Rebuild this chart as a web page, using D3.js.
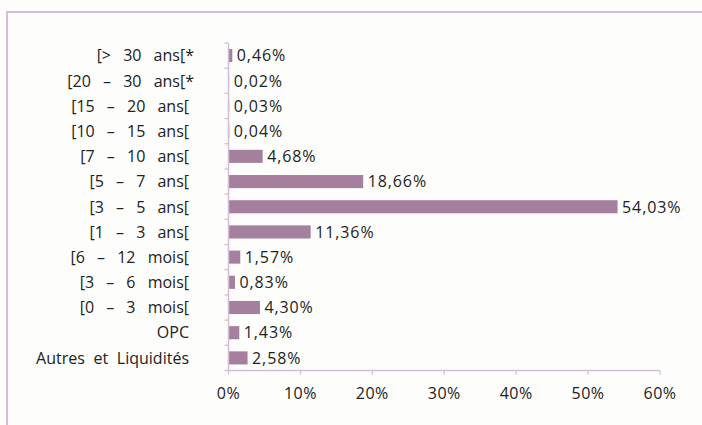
<!DOCTYPE html>
<html><head><meta charset="utf-8">
<script src="https://cdn.jsdelivr.net/npm/d3@7"></script>
<style>
html,body{margin:0;padding:0;background:#fff;}
svg{display:block;font-family:"Open Sans","Lato",sans-serif;}
</style></head>
<body>
<svg id="c" width="702" height="425"></svg>
<script>
const categories = ["[> 30 ans[*","[20 – 30 ans[*","[15 – 20 ans[","[10 – 15 ans[","[7 – 10 ans[","[5 – 7 ans[","[3 – 5 ans[","[1 – 3 ans[","[6 – 12 mois[","[3 – 6 mois[","[0 – 3 mois[","OPC","Autres et Liquidités"];
const values = [0.46,0.02,0.03,0.04,4.68,18.66,54.03,11.36,1.57,0.83,4.30,1.43,2.58];
const valueLabels = ["0,46%","0,02%","0,03%","0,04%","4,68%","18,66%","54,03%","11,36%","1,57%","0,83%","4,30%","1,43%","2,58%"];
const ticks = [0,10,20,30,40,50,60];

(function(){
const svg = d3.select("#c");
svg.append("rect").attr("width",702).attr("height",425).attr("fill","#fdfdfc");
// frame
svg.append("path").attr("d","M7,440 V12 H710").attr("fill","none").attr("stroke","#d6bcd6").attr("stroke-width",2);

const mLeft = 228.5, mRight = 660, mTop = 43, mBottom = 370.5;
const x = d3.scaleLinear().domain([0,60]).range([mLeft,mRight]);
const y = d3.scaleBand().domain(categories).range([mTop,mBottom]).paddingInner(0.48).paddingOuter(0.24);
const axisColor = "#d6bcd6";
const fs = 16;

// bars
svg.selectAll("rect.bar").data(values).enter().append("rect")
  .attr("class","bar")
  .attr("x",x(0)+0.5)
  .attr("y",(d,i)=>y(categories[i]))
  .attr("width",d=>Math.max(0,x(d)-x(0)))
  .attr("height",y.bandwidth())
  .attr("fill","#a5809e");

// y axis line and ticks at band boundaries
const step = (mBottom-mTop)/categories.length;
svg.append("line").attr("x1",mLeft).attr("x2",mLeft).attr("y1",mTop).attr("y2",mBottom).attr("stroke",axisColor).attr("stroke-width",1.5);
for(let i=0;i<=categories.length;i++){
  const yy = mTop + i*step;
  svg.append("line").attr("x1",mLeft-4).attr("x2",mLeft).attr("y1",yy).attr("y2",yy).attr("stroke",axisColor).attr("stroke-width",1.3);
}
// x axis
svg.append("line").attr("x1",mLeft).attr("x2",mRight).attr("y1",mBottom).attr("y2",mBottom).attr("stroke",axisColor).attr("stroke-width",1.5);
svg.selectAll("line.xt").data(ticks).enter().append("line").attr("class","xt")
  .attr("x1",d=>x(d)).attr("x2",d=>x(d)).attr("y1",mBottom).attr("y2",mBottom+4)
  .attr("stroke",axisColor).attr("stroke-width",1.3);
svg.selectAll("text.xl").data(ticks).enter().append("text").attr("class","xl")
  .attr("x",d=>x(d)).attr("y",mBottom+28).attr("text-anchor","middle")
  .attr("font-size",fs).attr("letter-spacing","0.5px").attr("fill","#222").text(d=>d+"%");

// category labels
svg.selectAll("text.cl").data(categories).enter().append("text").attr("class","cl")
  .attr("x",d=>d.endsWith("*")?194:189).attr("y",d=>y(d)+y.bandwidth()/2).attr("dy","0.36em")
  .attr("text-anchor","end").attr("font-size",fs).attr("fill","#222")
  .style("word-spacing",d=>d.startsWith("[")?"8px":"4.5px").text(d=>d);

// value labels
svg.selectAll("text.vl").data(values).enter().append("text").attr("class","vl")
  .attr("x",d=>x(d)+5).attr("y",(d,i)=>y(categories[i])+y.bandwidth()/2).attr("dy","0.36em")
  .attr("font-size",fs).attr("letter-spacing","0.9px").attr("fill","#222").text((d,i)=>valueLabels[i]);
})();
</script>
</body></html>
